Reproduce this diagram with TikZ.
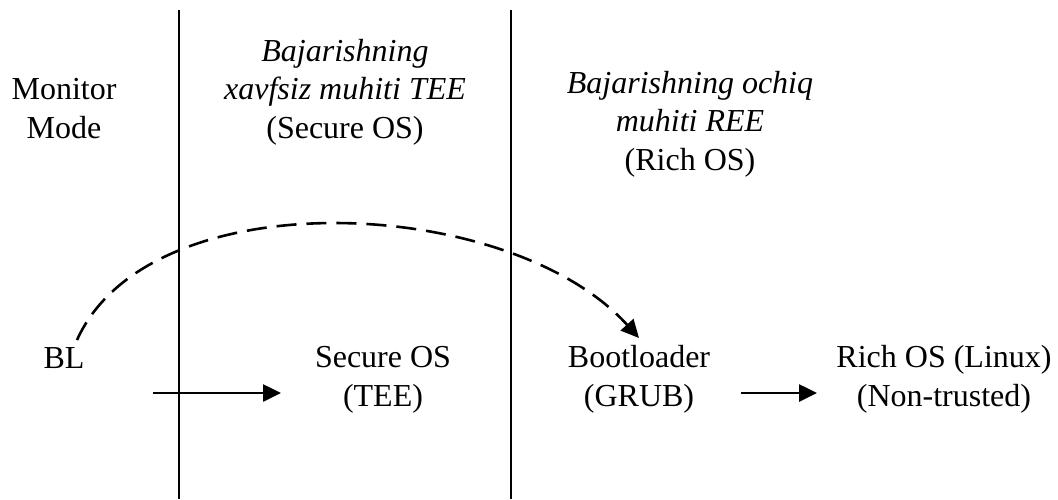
\documentclass[tikz,border=0pt]{standalone}
\usepackage{fontspec}
\setmainfont{Liberation Serif}
\usetikzlibrary{arrows.meta}
\begin{document}
\begin{tikzpicture}[x=1pt,y=1pt,
  lbl/.style={font=\fontsize{32}{38.4}\selectfont, align=center, inner sep=0pt, anchor=base},
  divider/.style={line width=2.6pt},
  flow/.style={line width=2.6pt, -{Triangle[length=18pt,width=17pt]}},
  jump/.style={line width=2.6pt, dash pattern=on 20pt off 10pt, -{Triangle[length=18pt,width=17pt]}}]
\useasboundingbox (0,0) rectangle (1058,-499);
% dividers
\coordinate (d1t) at (179,-10);
\coordinate (d1b) at (179,-499);
\coordinate (d2t) at (511,-10);
\coordinate (d2b) at (511,-499);
\draw[divider] (d1t) -- (d1b);
\draw[divider] (d2t) -- (d2b);
% headers
\node[lbl] (mon) at (64,-138) {Monitor\\Mode};
\node[lbl] (tee) at (345,-138) {\itshape Bajarishning\\\itshape xavfsiz muhiti TEE\\(Secure OS)};
\node[lbl] (ree) at (690,-170) {\itshape Bajarishning ochiq\\\itshape muhiti REE\\(Rich OS)};
% nodes
\node[lbl] (bl) at (64,-368) {BL};
\node[lbl] (sos) at (383,-406) {Secure OS\\(TEE)};
\node[lbl] (boot) at (639,-406) {Bootloader\\(GRUB)};
\node[lbl] (rich) at (944,-406) {Rich OS (Linux)\\(Non-trusted)};
% connectors
\coordinate (a1s) at (153,-393);
\coordinate (a1e) at (281,-393);
\coordinate (a2s) at (741,-393);
\coordinate (a2e) at (817,-393);
\draw[flow] (a1s) -- (a1e);
\draw[flow] (a2s) -- (a2e);
\coordinate (js) at (77,-340);
\coordinate (je) at (639,-338);
\draw[jump] (js) .. controls (150,-178) and (510,-195) .. (je);
\end{tikzpicture}
\end{document}
